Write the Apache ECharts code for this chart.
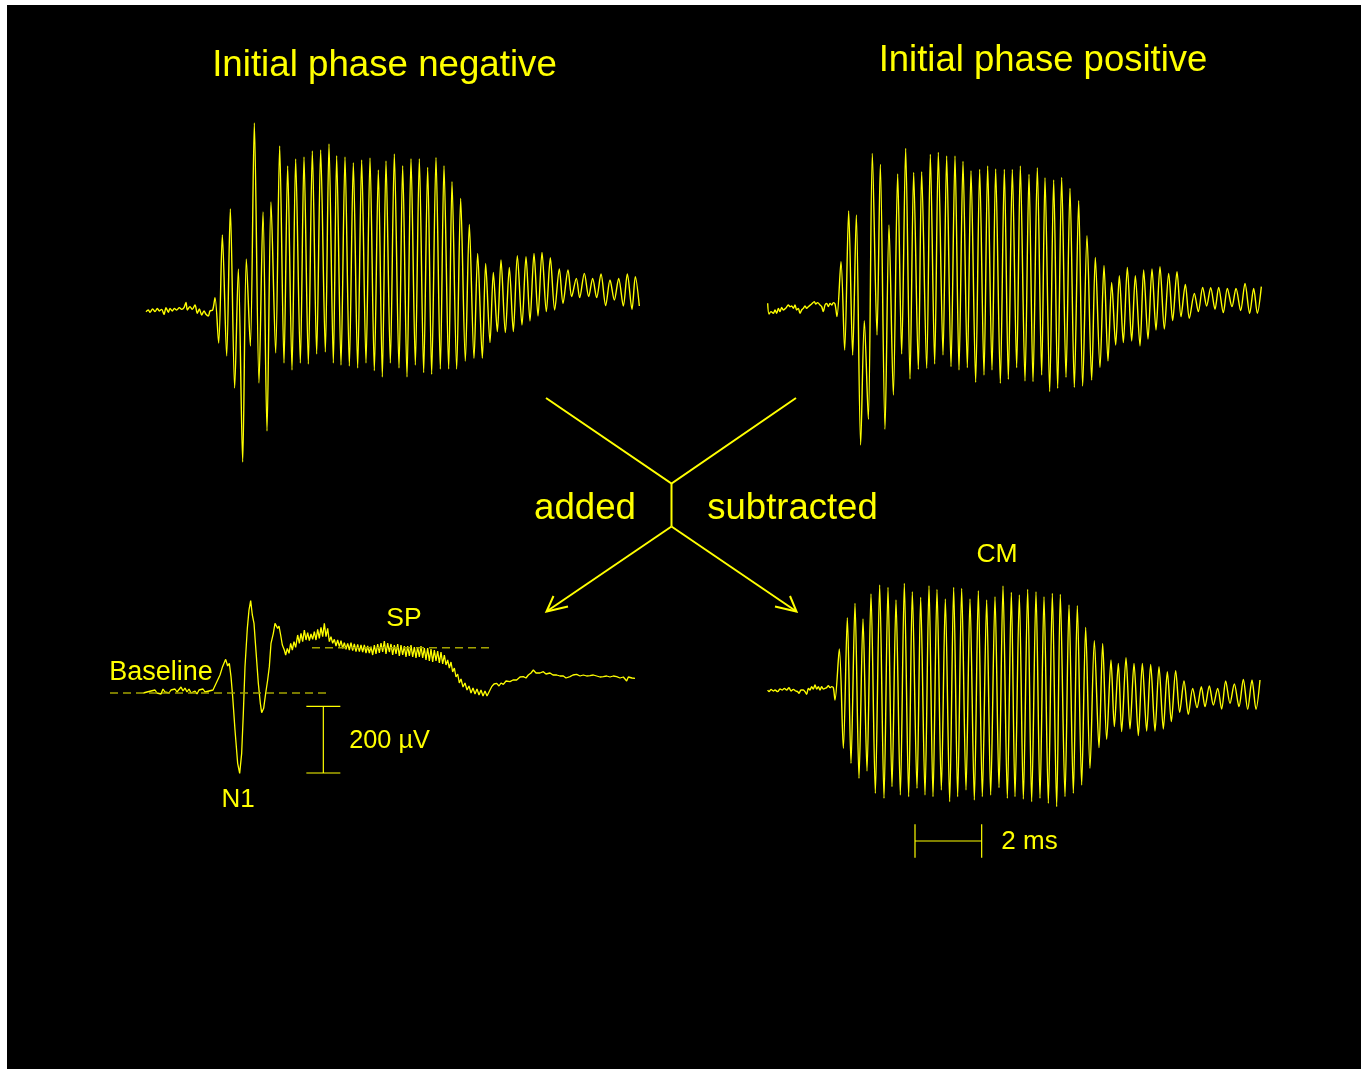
<!DOCTYPE html>
<html><head><meta charset="utf-8">
<script src="https://cdn.jsdelivr.net/npm/echarts@6/dist/echarts.min.js"></script>
<style>html,body{margin:0;padding:0;background:#fff}#c{width:1361px;height:1072px}</style>
</head><body><div id="c"></div>
<script>
// ---- DATA (time in ms, potential in µV) ----
const titles = ['Initial phase negative', 'Initial phase positive'];
const opLabels = ['added', 'subtracted'];
const markLabels = ['Baseline', 'SP', 'N1', 'CM'];
const scaleLabels = ['200 µV', '2 ms'];

// Initial phase negative
const negNoise = [[0.00,-5],[0.07,0],[0.12,-7],[0.20,3],[0.27,-5],[0.34,5],[0.40,-3],[0.47,2],[0.54,-13],[0.60,7],[0.67,-7],[0.72,5],[0.79,-3],[0.85,5],[0.92,0],[1.00,7],[1.07,2],[1.14,7],[1.20,23],[1.24,0],[1.32,10],[1.39,2],[1.47,15],[1.54,-10],[1.60,3],[1.67,-15],[1.74,-3],[1.80,-13],[1.87,-18],[1.92,-3],[2.00,0],[2.07,37]];
const negWave = [[2.18,-99],[2.29,225],[2.42,-138],[2.53,303],[2.66,-234],[2.77,123],[2.90,-456],[3.01,153],[3.13,-108],[3.25,561],[3.39,-219],[3.51,294],[3.63,-363],[3.75,324],[3.89,-129],[4.01,492],[4.14,-159],[4.25,432],[4.38,-180],[4.49,453],[4.63,-159],[4.74,459],[4.87,-162],[4.99,477],[5.12,-132],[5.24,480],[5.38,-126],[5.49,498],[5.62,-159],[5.72,463],[5.85,-165],[5.97,459],[6.10,-168],[6.22,442],[6.35,-174],[6.47,450],[6.60,-159],[6.72,456],[6.85,-182],[6.97,420],[7.09,-201],[7.20,447],[7.33,-159],[7.45,468],[7.59,-174],[7.70,433],[7.83,-201],[7.95,454],[8.08,-165],[8.20,454],[8.33,-188],[8.45,428],[8.57,-193],[8.70,458],[8.83,-177],[8.94,433],[9.08,-177],[9.18,385],[9.32,-177],[9.44,335],[9.58,-153],[9.70,257],[9.84,-145],[9.95,170],[10.09,-145],[10.19,140],[10.32,-98],[10.42,113],[10.54,-65],[10.65,150],[10.78,-68],[10.90,128],[11.02,-65],[11.14,163],[11.28,-45],[11.40,160],[11.52,-33],[11.64,170],[11.76,-18],[11.88,173],[12.01,-5],[12.13,157],[12.26,0],[12.40,123],[12.51,20],[12.66,120],[12.77,40],[12.91,95],[13.01,37],[13.15,110],[13.28,40],[13.40,95],[13.52,37],[13.65,108],[13.79,13],[13.92,90],[14.05,30],[14.18,95],[14.32,12],[14.44,108],[14.58,2],[14.68,100],[14.80,12]];

// Initial phase positive
const posNoise = [[0.02,11],[0.06,-21],[0.12,-14],[0.19,-19],[0.24,-9],[0.29,-19],[0.34,-4],[0.39,-14],[0.44,-1],[0.49,-9],[0.56,-4],[0.64,6],[0.69,1],[0.74,3],[0.79,-4],[0.84,6],[0.89,-9],[0.94,-4],[0.99,-19],[1.04,-9],[1.09,-4],[1.14,3],[1.19,-4],[1.24,1],[1.34,9],[1.42,16],[1.46,9],[1.52,13],[1.59,6],[1.64,1],[1.69,-14],[1.74,6],[1.79,11],[1.84,1],[1.89,11],[1.94,6],[1.99,13],[2.04,9]];
const posWave = [[2.10,-29],[2.22,136],[2.33,-129],[2.45,288],[2.57,-144],[2.68,276],[2.81,-414],[2.92,-41],[3.04,-337],[3.16,461],[3.30,-84],[3.40,428],[3.54,-367],[3.66,246],[3.79,-264],[3.92,399],[4.04,-141],[4.16,476],[4.29,-216],[4.40,404],[4.54,-187],[4.64,406],[4.79,-184],[4.90,458],[5.03,-171],[5.14,464],[5.28,-144],[5.39,453],[5.52,-179],[5.64,453],[5.76,-189],[5.88,437],[6.01,-182],[6.12,409],[6.26,-226],[6.38,413],[6.51,-204],[6.62,423],[6.75,-189],[6.86,414],[7.00,-229],[7.12,413],[7.24,-217],[7.36,413],[7.49,-182],[7.60,423],[7.74,-222],[7.86,398],[7.98,-224],[8.11,418],[8.24,-204],[8.34,388],[8.48,-254],[8.60,381],[8.72,-244],[8.84,389],[8.97,-211],[9.09,356],[9.22,-241],[9.35,319],[9.47,-237],[9.60,214],[9.74,-219],[9.85,149],[9.99,-182],[10.11,125],[10.23,-162],[10.34,74],[10.46,-114],[10.57,94],[10.69,-107],[10.81,119],[10.94,-102],[11.05,94],[11.19,-117],[11.30,111],[11.43,-96],[11.55,114],[11.67,-69],[11.79,121],[11.92,-66],[12.05,101],[12.17,-41],[12.30,106],[12.42,-29],[12.55,68],[12.67,-34],[12.82,41],[12.94,-14],[13.07,59],[13.19,3],[13.31,58],[13.44,-7],[13.55,59],[13.69,-17],[13.81,56],[13.95,1],[14.07,56],[14.21,-11],[14.34,71],[14.48,-19],[14.60,56],[14.71,-19],[14.83,61]];

// Added (SP + N1)
const sumBase = [[1.00,0],[1.05,-6],[1.11,3],[1.17,-3],[1.23,6],[1.29,0],[1.35,9],[1.41,0],[1.47,6],[1.53,-3],[1.59,12],[1.65,3],[1.71,9],[1.77,0],[1.83,9],[1.89,3],[1.95,12],[2.01,3],[2.07,9],[2.13,18],[2.19,6],[2.25,15],[2.31,3],[2.37,12],[2.43,0],[2.49,-6],[2.55,6],[2.61,-3],[2.67,9],[2.73,3],[2.79,12],[2.85,3],[2.91,9],[2.97,6],[3.03,12],[3.09,9],[3.15,12]];
const sumWave = [[3.30,54],[3.37,77],[3.47,101],[3.53,81],[3.58,89],[3.63,49],[3.68,-11],[3.75,-111],[3.83,-211],[3.89,-241],[3.95,-181],[4.00,-61],[4.05,79],[4.12,194],[4.17,249],[4.22,277],[4.27,234],[4.32,209],[4.37,139],[4.45,29],[4.51,-31],[4.55,-59],[4.61,-46],[4.67,-1],[4.73,39],[4.78,79],[4.83,149],[4.90,179],[4.95,209],[5.00,214],[5.03,194],[5.07,201],[5.12,174],[5.17,144],[5.23,129],[5.27,114],[5.32,134],[5.37,119],[5.42,149],[5.47,129],[5.52,154],[5.57,137],[5.63,174],[5.68,149],[5.73,179],[5.78,154],[5.83,189],[5.88,159],[5.93,181],[5.98,157],[6.03,177],[6.08,161],[6.13,184],[6.18,159],[6.23,191],[6.28,164],[6.33,197],[6.38,169],[6.43,209],[6.48,169],[6.53,194],[6.58,154],[6.63,169],[6.68,149],[6.73,161],[6.78,141],[6.83,159],[6.88,139],[6.93,157],[6.98,134],[7.03,151],[7.08,131],[7.13,149],[7.18,129],[7.23,151],[7.28,127],[7.33,147],[7.38,124],[7.43,146],[7.48,124],[7.53,144],[7.58,123],[7.63,144],[7.68,120],[7.73,141],[7.78,120],[7.83,139],[7.88,114],[7.93,144],[7.98,117],[8.03,147],[8.08,120],[8.13,150],[8.18,123],[8.23,156],[8.28,117],[8.33,150],[8.38,123],[8.43,147],[8.48,114],[8.53,144],[8.58,117],[8.63,147],[8.68,111],[8.73,144],[8.78,114],[8.83,141],[8.88,108],[8.93,141],[8.98,111],[9.03,144],[9.08,108],[9.13,138],[9.18,105],[9.23,138],[9.28,108],[9.33,141],[9.38,105],[9.43,135],[9.48,99],[9.53,135],[9.58,96],[9.63,132],[9.68,93],[9.73,129],[9.78,96],[9.83,126],[9.88,90],[9.93,123],[9.98,87],[10.03,114],[10.08,84],[10.13,99],[10.18,75],[10.23,93],[10.28,63],[10.33,75],[10.38,48],[10.43,57],[10.48,30],[10.53,42],[10.59,18],[10.65,30],[10.71,9],[10.77,21],[10.83,0],[10.89,15],[10.95,-3],[11.01,12],[11.07,-6],[11.13,9],[11.19,-9],[11.25,6],[11.31,-9],[11.35,-6]];
const sumTail = [[11.40,9],[11.45,19],[11.52,27],[11.60,29],[11.67,21],[11.73,30],[11.80,26],[11.88,36],[11.94,30],[12.00,34],[12.09,39],[12.20,39],[12.30,48],[12.40,49],[12.48,45],[12.55,54],[12.63,60],[12.70,69],[12.78,60],[12.84,66],[12.90,60],[13.00,64],[13.08,57],[13.20,60],[13.29,54],[13.40,54],[13.50,51],[13.60,51],[13.68,45],[13.80,49],[13.89,54],[14.00,56],[14.10,51],[14.20,54],[14.30,51],[14.40,52],[14.50,54],[14.60,51],[14.70,48],[14.80,49],[14.90,51],[15.00,48],[15.10,51],[15.20,49],[15.30,45],[15.40,48],[15.50,36],[15.55,48],[15.60,42],[15.66,45],[15.75,44]];
const baselineRef = [[0,0],[6.48,0]];
const spRef = [[6.06,136],[11.40,136]];

// Subtracted (CM)
const cmNoise = [[0.02,-3],[0.06,-8],[0.12,-1],[0.19,-6],[0.24,-3],[0.32,-8],[0.39,0],[0.46,-3],[0.52,2],[0.59,-3],[0.66,4],[0.72,-6],[0.79,-1],[0.86,-6],[0.92,-8],[0.96,-13],[1.02,-3],[1.09,-3],[1.14,-8],[1.19,-16],[1.24,2],[1.29,-3],[1.34,7],[1.39,0],[1.44,12],[1.49,0],[1.54,7],[1.59,-3],[1.64,7],[1.69,0],[1.74,2],[1.79,4],[1.84,10],[1.89,4],[1.94,7],[1.99,4],[2.04,-33]];
const cmWave = [[2.17,120],[2.29,-178],[2.41,214],[2.52,-223],[2.64,257],[2.76,-268],[2.88,210],[3.00,-246],[3.12,285],[3.25,-313],[3.38,312],[3.51,-328],[3.63,305],[3.75,-293],[3.87,267],[4.00,-318],[4.12,317],[4.25,-323],[4.36,292],[4.50,-298],[4.61,275],[4.74,-318],[4.86,310],[4.98,-323],[5.10,299],[5.23,-303],[5.35,270],[5.48,-338],[5.60,305],[5.72,-323],[5.84,302],[5.97,-303],[6.09,270],[6.22,-333],[6.34,295],[6.46,-323],[6.59,267],[6.71,-318],[6.84,277],[6.96,-296],[7.08,309],[7.21,-328],[7.33,290],[7.44,-323],[7.57,282],[7.69,-330],[7.82,299],[7.94,-338],[8.07,292],[8.19,-328],[8.31,277],[8.44,-343],[8.56,287],[8.69,-353],[8.80,284],[8.94,-323],[9.06,252],[9.19,-313],[9.31,250],[9.44,-288],[9.56,185],[9.69,-238],[9.82,145],[9.96,-176],[10.07,137],[10.19,-151],[10.32,87],[10.42,-113],[10.54,77],[10.64,-128],[10.77,94],[10.89,-120],[11.01,77],[11.14,-140],[11.26,77],[11.39,-126],[11.51,74],[11.64,-126],[11.76,67],[11.89,-120],[12.01,52],[12.13,-98],[12.26,55],[12.38,-70],[12.51,24],[12.64,-76],[12.77,2],[12.90,-56],[13.03,7],[13.14,-53],[13.27,9],[13.39,-48],[13.52,2],[13.64,-60],[13.76,24],[13.89,-43],[14.02,15],[14.16,-53],[14.29,29],[14.42,-61],[14.55,27],[14.67,-61],[14.79,27]];

// Scale bars (values in data units)
const voltScale = [200];   // µV
const timeScale = [2];     // ms

// ---- LAYOUT / STYLE ----
const YEL = '#ffff00';
const DIM = '#a3a300';
const FONT = '"Liberation Sans", Arial, sans-serif';
const grids = [
  {left:146, top:110, width:500, height:360},
  {left:767, top:110, width:500, height:360},
  {left:110, top:560, width:540, height:300},
  {left:767, top:560, width:500, height:300}
];
const xR = [[0,15],[0,15],[0,16.2],[0,15]];
const yR = [[-480,600],[-489,591],[-501,399],[-513,387]];

function ax(r){ return {type:'value', min:r[0], max:r[1], show:false, splitLine:{show:false}}; }
function line(gi, data, o){
  o = o || {};
  return {type:'line', xAxisIndex:gi, yAxisIndex:gi, data:data, showSymbol:false, symbol:'none',
    smooth:o.smooth===undefined?0.3:o.smooth, clip:false, silent:true, animation:false,
    lineStyle:{color:o.color||YEL, width:o.width||1.4, type:o.type||'solid'}};
}
const series = [
  line(0, negNoise.concat(negWave)),
  line(1, posNoise.concat(posWave)),
  line(2, sumBase.concat(sumWave, sumTail), {smooth:false, width:1.3}),
  line(3, cmNoise.concat(cmWave)),
  line(2, baselineRef, {color:DIM, type:[8,5], width:1.5, smooth:false}),
  line(2, spRef, {color:DIM, type:[8,5], width:1.5, smooth:false})
];
// 200 µV vertical bar in the "added" panel
const vb = {t:6.40, top:-40, cap:0.51};
series.push(line(2, [[vb.t, vb.top],[vb.t, vb.top - voltScale[0]]], {smooth:false, width:1.2}));
series.push(line(2, [[vb.t-vb.cap, vb.top],[vb.t+vb.cap, vb.top]], {smooth:false, width:1.2}));
series.push(line(2, [[vb.t-vb.cap, vb.top-voltScale[0]],[vb.t+vb.cap, vb.top-voltScale[0]]], {smooth:false, width:1.2}));
// 2 ms horizontal bar in the "subtracted" panel
const tb = {t:4.44, v:-456, tick:50};
series.push(line(3, [[tb.t, tb.v],[tb.t+timeScale[0], tb.v]], {smooth:false, width:1.2}));
series.push(line(3, [[tb.t, tb.v-tb.tick],[tb.t, tb.v+tb.tick]], {smooth:false, width:1.2}));
series.push(line(3, [[tb.t+timeScale[0], tb.v-tb.tick],[tb.t+timeScale[0], tb.v+tb.tick]], {smooth:false, width:1.2}));

function txt(s, x, y, size){
  return {type:'text', x:x, y:y, silent:true,
    style:{text:s, fill:YEL, font:size+'px '+FONT, textAlign:'center', textVerticalAlign:'middle', align:'center', verticalAlign:'middle'}};
}
function pl(pts){ return {type:'polyline', silent:true, shape:{points:pts}, style:{stroke:YEL, lineWidth:2, fill:null}}; }

const graphics = [
  {type:'rect', silent:true, shape:{x:7, y:5, width:1354, height:1064}, style:{fill:'#000'}},
  txt(titles[0], 384.5, 66, 36.7),
  txt(titles[1], 1043, 61, 36.5),
  txt(opLabels[0], 585, 509, 36.7),
  txt(opLabels[1], 792.5, 509, 36.5),
  txt(markLabels[0], 161, 673, 27),
  txt(markLabels[1], 404, 619, 26.5),
  txt(markLabels[2], 238, 800, 26),
  txt(markLabels[3], 997, 555, 26.5),
  txt(scaleLabels[0], 389.5, 741, 25.3),
  txt(scaleLabels[1], 1029.5, 842, 26),
  pl([[546,398],[671.5,483.5],[796,398]]),
  pl([[671.5,483.5],[671.5,526.5]]),
  pl([[671.5,526.5],[546.5,611.5]]),
  pl([[671.5,526.5],[796.5,611.5]]),
  pl([[568,606.5],[546.5,611.5],[553.5,596]]),
  pl([[775,606.5],[796.5,611.5],[790,596]])
];

const chart = echarts.init(document.getElementById('c'), null, {renderer:'canvas'});
chart.setOption({
  backgroundColor:'#ffffff',
  animation:false,
  grid: grids,
  xAxis: xR.map((r,i)=>Object.assign(ax(r), {gridIndex:i})),
  yAxis: yR.map((r,i)=>Object.assign(ax(r), {gridIndex:i})),
  graphic: {elements: graphics},
  series: series
});
</script></body></html>
